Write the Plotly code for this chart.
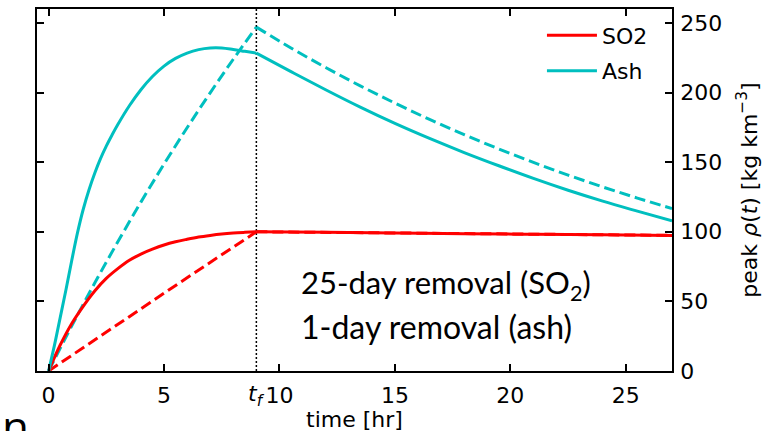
import plotly.graph_objects as go

# ---- data ----
T_F = 9.0
t_rise_fine = [0, 0.25, 0.5, 0.75, 1.0, 1.25, 1.5, 1.75, 2.0, 2.25, 2.5, 2.75, 3.0,
               3.5, 4.0, 4.5, 5.0, 5.5, 6.0, 6.5, 7.0, 7.5, 8.0, 8.5, 9.0]
ash_solid_rise = [0, 18, 38, 58, 79, 99, 116, 130, 142, 152.5, 161.5, 169.5, 177,
                  190.5, 202, 211.5, 219, 224.5, 228.3, 230.8, 232, 232, 230.9, 229.6, 228.3]

t_rise_hourly = [0, 1, 2, 3, 4, 5, 6, 7, 8, 9]
ash_dashed_rise = [0, 32.2, 63.2, 92.8, 121.3, 148.6, 174.7, 199.8, 223.9, 247.0]

t_decay = [9, 10.5, 12, 13.5, 15, 16.5, 18, 19.5, 21, 22.5, 24, 25.5, 27]
ash_solid_decay = [228.3, 215.0, 202.0, 189.5, 177.8, 167.0, 156.9, 147.4, 138.3, 129.8, 122.0, 114.8, 107.8]
ash_dashed_decay = [247.0, 232.0, 218.0, 204.8, 192.4, 180.7, 169.8, 159.5, 149.8, 140.7, 132.2, 124.2, 116.7]

t_rise_half = [0, 0.5, 1, 1.5, 2, 2.5, 3, 3.5, 4, 4.5, 5, 5.5, 6, 6.5, 7, 7.5, 8, 8.5, 9]
so2_solid_rise = [0, 18.5, 34, 46.5, 57.5, 66.5, 73.5, 79.5, 84, 87.5, 90.5, 92.8,
                  94.6, 96.2, 97.4, 98.4, 99.1, 99.6, 100]
t_rise_coarse = [0, 3, 6, 9]
so2_dashed_rise = [0, 33.6, 67.0, 100]

t_decay_so2 = [9, 12, 15, 18, 21, 24, 27]
so2_decay = [100, 99.6, 99.1, 98.6, 98.2, 97.8, 97.4]

x_ticks = [0, 5, 10, 15, 20, 25]
y_ticks = [0, 50, 100, 150, 200, 250]

RED = "#ff0000"
CYAN = "#00bfbf"
FONT = "DejaVu Sans"
DASH = "11px,5px"

fig = go.Figure()

def add(x, y, color, dash, name, group, show, shape="linear"):
    fig.add_trace(go.Scatter(x=x, y=y, mode="lines", name=name, showlegend=show,
                             legendgroup=group,
                             line=dict(color=color, width=3, dash=dash, shape=shape),
                             hoverinfo="skip"))

# dashed curves
add(t_rise_coarse, so2_dashed_rise, RED, DASH, "SO2", "so2", False)
add(t_decay_so2, so2_decay, RED, DASH, "SO2", "so2", False)
add(t_rise_hourly, ash_dashed_rise, CYAN, DASH, "Ash", "ash", False, "spline")
add(t_decay, ash_dashed_decay, CYAN, DASH, "Ash", "ash", False, "spline")
# solid curves
add(t_rise_half, so2_solid_rise, RED, "solid", "SO2", "so2", True, "spline")
add(t_decay_so2, so2_decay, RED, "solid", "SO2", "so2", False, "spline")
add(t_rise_fine, ash_solid_rise, CYAN, "solid", "Ash", "ash", True, "spline")
add(t_decay, ash_solid_decay, CYAN, "solid", "Ash", "ash", False, "spline")

fig.add_shape(type="line", x0=T_F, x1=T_F, y0=0, y1=1, xref="x", yref="paper",
              line=dict(color="black", width=1.5, dash="2px,2px"), layer="below")

fig.add_annotation(x=T_F, y=0, xref="x", yref="y", yanchor="top", yshift=-8,
                   text="<i>t</i><sub><i>f</i></sub>", showarrow=False,
                   font=dict(family=FONT, size=22, color="black"))

fig.add_annotation(x=10.85, y=62.4, xref="x", yref="y", xanchor="left", yanchor="middle",
                   text="25-day removal (SO<sub>2</sub>)", showarrow=False,
                   font=dict(family="Lato", size=31, color="black"))
fig.add_annotation(x=10.85, y=32.3, xref="x", yref="y", xanchor="left", yanchor="middle",
                   text="1-day removal (ash)", showarrow=False,
                   font=dict(family="Lato", size=32, color="black"))

# x-axis title placed as text near the bottom edge
fig.add_annotation(x=0.5, y=-60 / 362, xref="paper", yref="paper", xanchor="center", yanchor="bottom",
                   yshift=-3, text="time [hr]", showarrow=False,
                   font=dict(family=FONT, size=22, color="black"))

# cropped panel letter at the bottom-left edge
fig.add_annotation(x=-37 / 635, y=-0.064, xref="paper", yref="paper", yanchor="top", xanchor="left",
                   text="n", showarrow=False,
                   font=dict(family="Open Sans", size=44, color="black"))

axis_common = dict(showline=True, linecolor="black", linewidth=1.5, mirror="ticks",
                   ticks="inside", ticklen=7, tickwidth=1.5, tickcolor="black",
                   showgrid=False, zeroline=False, automargin=False,
                   tickfont=dict(family=FONT, size=22, color="black"))

fig.update_xaxes(range=[-0.5, 27], tickvals=x_ticks, ticktext=[str(v) for v in x_ticks],
                 ticklabelstandoff=4, **axis_common)
fig.update_yaxes(range=[0, 260], tickvals=y_ticks, side="right", ticklabelstandoff=2,
                 title=dict(text="peak <i>ρ</i>(<i>t</i>) [kg km<sup>−3</sup>]",
                            font=dict(family=FONT, size=22, color="black"), standoff=20),
                 **axis_common)

fig.update_layout(
    width=768, height=431,
    margin=dict(l=37, r=96, t=9, b=60),
    paper_bgcolor="white", plot_bgcolor="white",
    showlegend=True,
    legend=dict(x=0.97, y=0.985, xanchor="right", yanchor="top", itemwidth=50,
                bgcolor="rgba(0,0,0,0)", traceorder="grouped", tracegroupgap=4,
                font=dict(family=FONT, size=22, color="black")),
)

fig.write_html("out.html")
